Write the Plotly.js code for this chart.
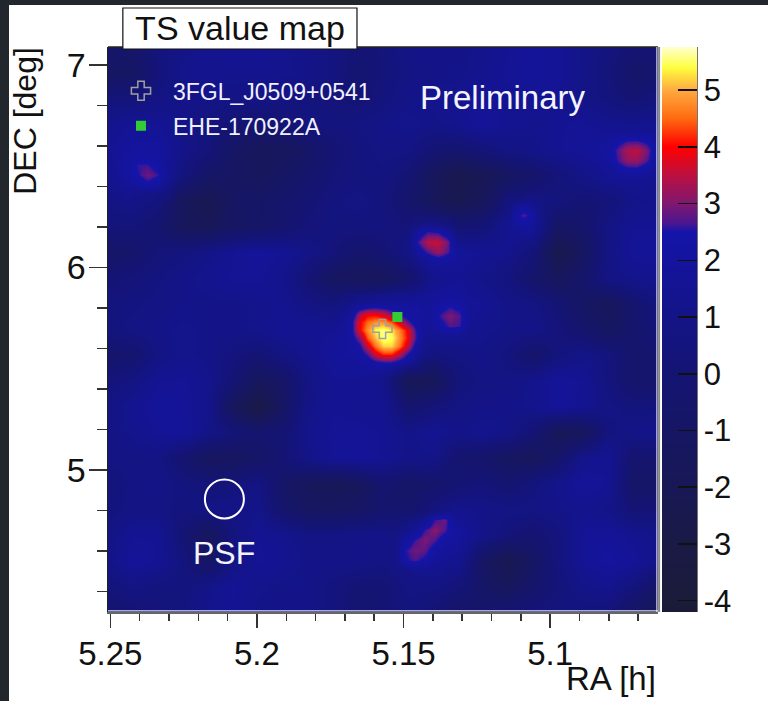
<!DOCTYPE html>
<html>
<head>
<meta charset="utf-8">
<script src="https://cdn.plot.ly/plotly-3.0.1.min.js"></script>
<style>
html,body{margin:0;padding:0;background:#22272e;width:768px;height:701px;overflow:hidden}
#sheet{position:absolute;left:9px;top:5px;width:759px;height:696px;background:#fff}
#chart{position:absolute;left:0;top:0;width:768px;height:701px}
</style>
</head>
<body>
<div id="sheet"></div>
<div id="chart"></div>
<script>
// ---------- data ----------
var zMin = -4.2, zMax = 5.76;
var scaleValues = [-4.2,-3,-2,-1,0,1,2,2.5,2.65,3,3.5,4,4.5,5,5.4,5.76];
var scaleColors = ['#1b1b38','#1a1a46','#181856','#161664','#141474','#141488','#14149e','#1414aa','#4a1690','#801770','#bc1040','#ff0000','#ff6a10','#ffaa40','#ffff40','#ffffd0'];
var colorbarTicks = [-4,-3,-2,-1,0,1,2,3,4,5];
var colorbarLabels = ['-4','-3','-2','-1','0','1','2','3','4','5'];

var baseRA = [5.2508,5.2422,5.2337,5.2252,5.2167,5.2081,5.1996,5.1911,5.1826,5.1740,5.1655,5.1570,5.1485,5.1400,5.1314,5.1229,5.1144,5.1059,5.0973,5.0888,5.0803,5.0718,5.0632];
var baseDEC = [7.0889,6.9621,6.8352,6.7084,6.5816,6.4548,6.3280,6.2012,6.0743,5.9475,5.8207,5.6939,5.5671,5.4403,5.3134,5.1866,5.0598,4.9330,4.8062,4.6794,4.5525,4.4257,4.2989];
var baseTS = [
[-0.5,-0.6,0.5,1,1.3,1.5,1.5,1.2,1,0.6,0,0.3,1,1,1,1.2,1.5,1.8,1.6,1,0.5,0,0],
[-1,-1,0.3,1.2,1.3,1.3,1.3,1.2,1,0.6,-0.2,0.3,0.8,1,1,1.3,1.6,1.8,1.7,1,0.3,-0.7,-0.3],
[0.3,0.3,0.8,1,1,0.8,0.8,0.7,0.5,0.3,0,0.5,1,1.2,1.4,1.7,1.4,1.5,1.4,1,0.5,0,0.5],
[1.2,1.6,1.5,1,0.5,0,-0.3,0,0.5,0.5,0.7,1,1.2,1,1.3,1.8,1.4,1.2,1.5,1.6,1.3,1.2,1.3],
[1.5,2,2.1,1,0.3,-1,-1.6,-1.5,-0.8,0,0.5,0.8,0.8,0,-0.3,0.3,0.8,1,1.5,1.7,2,2.1,1.8],
[1.3,2,2.2,0.5,-0.8,-1,-1.4,-1,-0.5,0.2,0.5,0.6,0,-1.5,-2.5,-2,-1.2,-0.5,0.3,1,1.5,1.6,1.3],
[0.8,1,0.5,-1.5,-2.2,-1,-0.8,-0.5,0,0.6,0.8,0.5,-0.5,-1.5,-2.3,-1.5,0.3,0.8,0.5,0,0.3,1,1.2],
[0.3,0.3,-0.3,-1.5,-1.8,-1,-0.8,-0.3,0.3,0.5,0.5,0.5,0.3,0.8,0,0.2,1.5,1.8,-1,-0.5,0.8,1.5,1.5],
[-0.8,-0.5,0.3,0.5,1,1.5,1.8,1.5,1,0.3,-0.5,0,0.8,2.1,1.8,1.5,1.2,0.2,-2.5,-1.2,0.8,1.7,1.7],
[0,0.3,0.6,1,1.3,1.6,1.6,1.2,0,-1.2,-1.5,-1.5,-0.5,1.2,1.5,1,0.5,-0.5,-1.5,-0.5,0.8,1.2,1.3],
[0.5,0.6,0.8,1,1,1,1.2,1.3,0.8,0.5,1.5,2,2,1.8,2.1,1.5,1,0.8,0,-1,-1.6,-0.3,0.5],
[0.5,0.8,1,1.2,1,1,1.2,1.5,1.5,1.5,2,2,2,1.8,1.5,1.2,1,1,0.3,-0.5,-1.2,-0.5,0.3],
[-0.5,-0.3,0.8,1.2,1,0.5,0,0.8,1.3,1.8,2,2,1.5,0.5,0.8,1,0.5,-0.6,0.5,1,0.5,-0.5,-0.3],
[0.3,0.8,1.5,1.6,1.2,0,-1.5,-0.8,0.8,1.5,1.5,1.2,-1.8,-1.8,0.3,0.8,0.8,1.2,1.8,1.5,0.5,-0.6,-0.5],
[0.8,1.4,1.8,1.7,1.2,-1.5,-3,-1,1,1.5,1.4,1.4,-0.3,0.3,0.8,1,1,1.2,1.7,1.4,0.8,0.5,0.5],
[0.8,1.2,1.6,1.8,1,0.2,-0.3,0,1.2,1.6,1.6,1.5,1,1.5,1,1.3,1,0,-1.8,-1.5,0.5,1,1.2],
[0.8,0.8,0.8,-0.3,-1.3,-1.3,-0.8,0,1,1.6,1.8,1.5,1,1,-0.3,-0.6,-1.2,-1.5,-0.5,1.2,1.5,-0.3,-0.3],
[0.3,0.8,1,0.5,0.3,0.3,0.8,-0.8,-1.5,-1.8,-1.5,-0.2,-0.8,-0.6,0,0.3,-0.2,0.5,1.2,1.8,1.5,-0.8,-0.8],
[0.5,0.8,0.8,0.5,0.8,1,1,-0.5,-1.2,-1.2,-1,-0.3,-0.5,0.5,1.2,1,0.8,0.8,1,1.3,1,0,0.2],
[0.8,1.5,1.5,0,-1.5,0.5,1.5,1.3,0.8,0.8,1,1,0.8,1.3,2,1,0.3,-0.2,0.5,1.6,1.8,1.4,1],
[1,1.8,1.5,0.5,-1,0.8,1.6,1.4,1,1,1,0.8,1,1.6,1.4,-1,-2.3,-1,0.5,1.6,2,1.7,1],
[0.3,0.8,0.5,0.5,1,1.6,1.2,1,1,0.5,0,0,0.8,0.8,0.3,-0.8,-1.5,-0.5,0.3,1,1.3,0.5,-0.8],
[-0.3,0,0.3,0.5,1.2,1.5,1,1,1,0.5,-0.3,0,0.5,0,-0.8,-0.5,0,0.3,0.5,0.5,0.3,-1,-1.8]
];

var coreRA = [5.1705,5.1677,5.1650,5.1623,5.1595,5.1568,5.1541,5.1514,5.1486,5.1459,5.1432];
var coreDEC = [5.8494,5.8099,5.7704,5.7309,5.6914,5.6519,5.6123,5.5728,5.5333,5.4938];
var coreTS = [
[0.4,0.6,0.8,1,1.1,1.2,1.3,1.4,1.4,1.5,1.6],
[1,1.4,1.8,2.1,2.2,2.1,2,2,2,1.9,1.87],
[1.25,1.9,3.3,3.9,3.9,3.6,3,2.3,2.1,2,1.87],
[1.5,2.3,3.9,4.5,4.8,4.8,4.4,3.6,2.8,2.1,1.87],
[1.72,2.3,3.9,4.8,5.4,5.6,5.3,4.7,3.9,2.6,1.85],
[1.8,2.2,3,4.4,5.1,5.6,5.5,4.8,4,2.7,1.5],
[1.85,2,2.4,3.6,4.6,5.2,5.2,4.6,3.6,2.2,1.25],
[1.9,1.9,2.1,2.7,3.7,4.2,4.2,3.5,2.5,1.8,0.95],
[1.8,1.8,1.9,2,2.4,2.6,2.6,2.2,1.8,1.1,0.1],
[1.65,1.7,1.8,1.8,1.7,1.5,1.2,0.7,0.1,-0.2,-0.5]
];

var eastRA = [5.0805,5.0770,5.0736,5.0702,5.0668,5.0634];
var eastDEC = [6.6790,6.6296,6.5802,6.5309,6.4815,6.4321];
var eastTS = [
[1.5,1.4,1.4,1.4,1.4,1.4],
[1.8,2.2,2.5,2.5,2.3,1.7],
[2,2.7,3.4,3.5,2.9,1.8],
[1.9,2.6,3.2,3.2,2.7,1.7],
[1.6,2.1,2.3,2.3,2,1.4],
[1.4,1.5,1.5,1.5,1.3,1.2]
];

var northRA = [5.1486,5.1452,5.1418,5.1384,5.1350,5.1316];
var northDEC = [6.2247,6.1753,6.1259,6.0765,6.0272];
var northTS = [
[0.15,0.3,0.5,0.5,0.2,-0.4],
[0.5,2,2.6,2.5,1.9,0.4],
[0.7,2.6,3.5,3.6,2.9,1.1],
[0.8,2,2.7,3.2,2.7,1.8],
[0.3,0.9,1.6,1.9,1.8,1.7]
];

var nearRA = [5.1411,5.1377,5.1343,5.1309,5.1275];
var nearDEC = [5.8593,5.8099,5.7605,5.7111,5.6617];
var nearTS = [
[1.6,1.8,1.85,1.8,1.5],
[1.8,2.2,2.5,2.3,1.6],
[1.8,2.6,3,2.7,1.6],
[1.8,2.2,2.7,2.6,1.4],
[1.4,1.4,1.5,1.4,1.2]
];

var southRA = [5.1531,5.1497,5.1463,5.1429,5.1395,5.1360,5.1326];
var southDEC = [4.8025,4.7531,4.7037,4.6543,4.6049,4.5556,4.5062];
var southTS = [
[-0.3,-0.4,-0.3,0.1,0.5,0.9,1.2],
[0.2,0.5,0.9,1.4,2.6,2.9,1.6],
[0.6,1,1.6,2.6,3.1,2.7,2],
[0.9,1.9,2.6,3,2.7,2.1,1.9],
[0.9,2.5,2.9,2.8,2.2,1.8,1.6],
[0.9,2.4,2.7,2.4,1.8,1.5,1.4],
[0.7,0.9,1.2,1.3,1.2,1.1,0.9]
];

var westRA = [5.2441,5.2407,5.2373,5.2339,5.2305];
var westDEC = [6.5556,6.5062,6.4568,6.4074,6.3580];
var westTS = [
[1.9,2,2.1,2,1.6],
[2,2.6,2.6,2.2,1.5],
[2,2.5,2.9,2.6,1.5],
[1.6,2,2.3,1.9,1],
[1.2,1,0.8,0.6,0.3]
];

var dotRA = [5.1145,5.1118,5.1091,5.1063,5.1036];
var dotDEC = [6.3383,6.2988,6.2593,6.2198,6.1802];
var dotTS = [
[0.3,0.5,0.65,0.8,0.75],
[0.6,1.7,2.1,1.7,0.8],
[0.9,2.2,2.75,2.2,0.9],
[1.3,1.9,2.2,1.9,1.1],
[1.4,1.5,1.6,1.5,0.7]
];

var sourceRA = [5.1572], sourceDEC = [5.6963];
var neutrinoRA = [5.1521], neutrinoDEC = [5.7556];
var psfRA = [5.2111], psfDEC = [4.8568];

// ---------- drawing ----------
var colorscale = scaleValues.map(function(v,i){return [(v-zMin)/(zMax-zMin), scaleColors[i]];});
var FONT = '"Liberation Sans", Arial, sans-serif';

function map(x,y,z,withBar){
  var t = {type:'heatmap',x:x,y:y,z:z,zmin:zMin,zmax:zMax,colorscale:colorscale,zsmooth:'best',
           showscale:!!withBar,showlegend:false,hoverinfo:'skip'};
  if(withBar){
    t.colorbar = {x:1.0073,xanchor:'left',xpad:0,y:0.5,yanchor:'middle',ypad:0,len:1,lenmode:'fraction',
      thickness:35,thicknessmode:'pixels',outlinewidth:0,
      tickmode:'array',tickvals:colorbarTicks,ticktext:colorbarLabels,
      ticks:'inside',ticklen:19,tickwidth:1.5,tickcolor:'#111',
      tickfont:{family:FONT,size:31,color:'#111'}};
  }
  return t;
}

var traces = [
  map(baseRA,baseDEC,baseTS,true),
  map(eastRA,eastDEC,eastTS),
  map(northRA,northDEC,northTS),
  map(nearRA,nearDEC,nearTS),
  map(southRA,southDEC,southTS),
  map(westRA,westDEC,westTS),
  map(dotRA,dotDEC,dotTS),
  map(coreRA,coreDEC,coreTS),
  {type:'scatter',mode:'markers',x:psfRA,y:psfDEC,showlegend:false,hoverinfo:'skip',
   marker:{symbol:'circle-open',size:39,color:'#fff',line:{color:'#fff',width:2}}},
  {type:'scatter',mode:'markers',name:'3FGL_J0509+0541',x:sourceRA,y:sourceDEC,legend:'legend',
   marker:{symbol:'cross',size:16,color:'rgba(0,0,0,0)',line:{color:'#a0a0a0',width:1.5}}},
  {type:'scatter',mode:'markers',name:'EHE-170922A',x:neutrinoRA,y:neutrinoDEC,legend:'legend2',
   marker:{symbol:'square',size:10,color:'#33cc33',line:{width:0}}}
];

function legendAt(x,y){
  return {x:x,y:y,xanchor:'left',yanchor:'middle',bgcolor:'rgba(0,0,0,0)',borderwidth:0,itemwidth:54,
          font:{family:FONT,size:23,color:'#f0f0ff'},itemclick:false,itemdoubleclick:false};
}

var xTickFont = {family:FONT,size:33,color:'#111'};
var yTickFont = {family:FONT,size:34,color:'#111'};
var layout = {
  width:768,height:701,
  margin:{l:108,r:110,t:47,b:89,pad:0},
  paper_bgcolor:'rgba(0,0,0,0)',plot_bgcolor:'#141488',
  font:{family:FONT},
  title:{text:'TS value map',font:{family:FONT,size:34,color:'#111'},
         xref:'container',yref:'container',x:0.3125,y:0.96,xanchor:'center',yanchor:'middle'},
  xaxis:{range:[5.2508,5.0632],tick0:5.25,dtick:0.05,ticks:'outside',ticklen:14,tickwidth:1.5,tickcolor:'#333',
         ticklabelstandoff:-3,
         showgrid:false,zeroline:false,showline:true,linecolor:'#666',linewidth:2,tickfont:xTickFont,
         minor:{tick0:5.25,dtick:0.01,ticks:'outside',ticklen:7,tickwidth:1.5,tickcolor:'#333',showgrid:false}},
  yaxis:{range:[4.2988,7.0889],tick0:5,dtick:1,ticks:'outside',ticklen:18,tickwidth:1.5,tickcolor:'#333',
         ticklabelstandoff:-4,
         showgrid:false,zeroline:false,showline:true,linecolor:'#222',linewidth:1.5,tickfont:yTickFont,
         minor:{tick0:5,dtick:0.2,ticks:'outside',ticklen:10,tickwidth:1.5,tickcolor:'#333',showgrid:false}},
  legend:legendAt(0.0018,0.9225),
  legend2:legendAt(0.0018,0.8605),
  shapes:[
    {type:'line',xref:'paper',yref:'paper',x0:0,x1:1,y0:1,y1:1,line:{color:'#222',width:1.5}},
    {type:'line',xref:'paper',yref:'paper',x0:1.002,x1:1.002,y0:0,y1:1,line:{color:'#888',width:2}},
    {type:'line',xref:'paper',yref:'paper',x0:0.998,x1:0.998,y0:0,y1:1,line:{color:'#fff',width:1}},
    {type:'line',xref:'paper',yref:'paper',x0:0,x1:1,y0:0.002,y1:0.002,line:{color:'#fff',width:1}},
    {type:'line',xref:'paper',yref:'paper',x0:1.0709,x1:1.0709,y0:0,y1:1,line:{color:'#444',width:1.5}},
    {type:'rect',xref:'paper',yref:'paper',x0:0.027,x1:0.4527,y0:0.9965,y1:1.069,fillcolor:'#fff',line:{color:'#111',width:1.2},layer:'above'}
  ],
  annotations:[
    {text:'Preliminary',x:5.1162,y:6.842,xref:'x',yref:'y',showarrow:false,font:{family:FONT,size:33,color:'#f4f4ff'}},
    {text:'PSF',x:5.2114,y:4.5901,xref:'x',yref:'y',showarrow:false,font:{family:FONT,size:32,color:'#f4f4ff'}},
    {text:'RA [h]',xref:'paper',yref:'paper',x:1,y:-0.118,xanchor:'right',yanchor:'middle',showarrow:false,font:{family:FONT,size:33,color:'#111'}},
    {text:'DEC [deg]',xref:'paper',yref:'paper',x:-0.15,y:1.003,xanchor:'center',yanchor:'top',textangle:-90,showarrow:false,font:{family:FONT,size:32,color:'#111'}}
  ]
};

Plotly.newPlot('chart',traces,layout,{displayModeBar:false,staticPlot:true});
</script>
</body>
</html>
